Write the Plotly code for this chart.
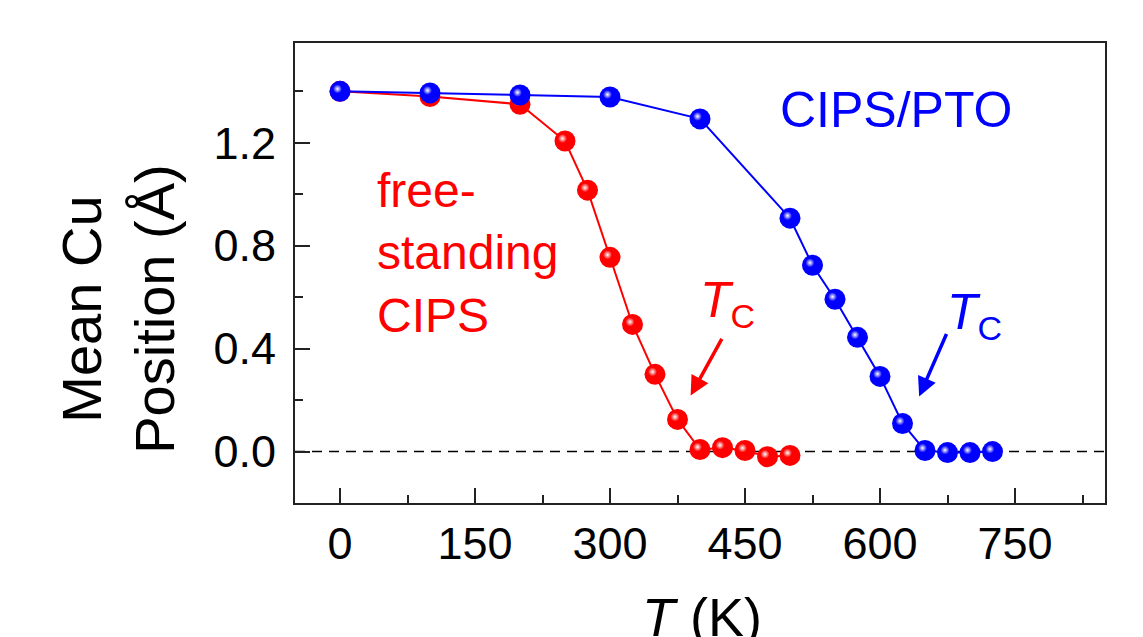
import plotly.graph_objects as go

# Temperature (K) and mean Cu displacement (Å)
t_free = [0, 100, 200, 250, 275, 300, 325, 350, 375, 400, 425, 450, 475, 500]
cu_free = [1.40, 1.38, 1.35, 1.207, 1.016, 0.755, 0.494, 0.30, 0.125, 0.008, 0.015, 0.004, -0.02, -0.015]

t_pto = [0, 100, 200, 300, 400, 500, 525, 550, 575, 600, 625, 650, 675, 700, 725]
cu_pto = [1.40, 1.394, 1.386, 1.378, 1.293, 0.907, 0.724, 0.592, 0.444, 0.292, 0.109, 0.004, -0.004, -0.004, 0.0]

x_ticks = [0, 150, 300, 450, 600, 750]
y_ticks = [0.0, 0.4, 0.8, 1.2]

RED = "#ff0000"
BLUE = "#0000ff"
FONT = "Arial, Liberation Sans, sans-serif"

X_RANGE = [-50, 850]
Y_RANGE = [-0.2, 1.588]
PLOT_W, PLOT_H = 810, 460

# offset of the glossy highlight, in pixels converted to data units
hx = -2.5 * (X_RANGE[1] - X_RANGE[0]) / PLOT_W
hy = 2.5 * (Y_RANGE[1] - Y_RANGE[0]) / PLOT_H

fig = go.Figure()

# zero reference line
fig.add_shape(type="line", xref="paper", yref="y", x0=0, x1=1, y0=0, y1=0,
              line=dict(color="black", width=1.6, dash="10px,7px"), layer="below")

for xs, ys, col in [(t_free, cu_free, RED), (t_pto, cu_pto, BLUE)]:
    fig.add_trace(go.Scatter(x=xs, y=ys, mode="lines+markers",
                             line=dict(color=col, width=2),
                             marker=dict(size=21, color=col, line=dict(width=0)),
                             showlegend=False, hoverinfo="skip"))
    fig.add_trace(go.Scatter(x=[v + hx for v in xs], y=[v + hy for v in ys], mode="markers",
                             marker=dict(size=9, color=col, line=dict(width=0),
                                         gradient=dict(type="radial", color="white")),
                             showlegend=False, hoverinfo="skip"))

TC = "<i>T</i><sub><span style='font-size:34px'>C</span></sub>"

# text labels
fig.add_annotation(x=618, y=1.328, text="CIPS/PTO", showarrow=False,
                   font=dict(family=FONT, size=50, color=BLUE))
fig.add_annotation(x=39, y=0.77, text="free-<br>standing<br>CIPS", showarrow=False,
                   xanchor="left", align="left",
                   font=dict(family=FONT, size=48, color=RED))
fig.add_annotation(x=430, y=0.575, text=TC, showarrow=False,
                   font=dict(family=FONT, size=50, color=RED))
fig.add_annotation(x=705, y=0.53, text=TC, showarrow=False,
                   font=dict(family=FONT, size=50, color=BLUE))

# Tc arrows
fig.add_annotation(x=389.6, y=0.218, ax=32, ay=-58, text="", showarrow=True,
                   arrowhead=2, arrowsize=1.1, arrowwidth=3.5, arrowcolor=RED,
                   axref="pixel", ayref="pixel")
fig.add_annotation(x=643.5, y=0.214, ax=28, ay=-64, text="", showarrow=True,
                   arrowhead=2, arrowsize=1.1, arrowwidth=3.5, arrowcolor=BLUE,
                   axref="pixel", ayref="pixel")

# axis titles
fig.add_annotation(xref="paper", yref="paper", x=0, y=0.42, xshift=-177, xanchor="center",
                   yanchor="middle", text="Mean Cu<br>Position (Å)", textangle=-90,
                   showarrow=False, font=dict(family=FONT, size=56, color="black"))
fig.add_annotation(xref="x", yref="paper", x=402, y=0, yshift=-82, yanchor="top",
                   xanchor="center", text="<i>T</i> (K)", showarrow=False,
                   font=dict(family=FONT, size=54, color="black"))

axis_common = dict(showgrid=False, zeroline=False, showline=True, linecolor="#222222",
                   linewidth=1.8, mirror=True, ticks="inside", tickcolor="#222222",
                   tickwidth=1.5, ticklen=15,
                   tickfont=dict(family=FONT, size=45, color="black"))

fig.update_xaxes(range=X_RANGE, tickvals=x_ticks, ticktext=[str(v) for v in x_ticks],
                 minor=dict(ticks="inside", dtick=75, tick0=0, ticklen=8,
                            tickwidth=1.5, tickcolor="#222222"),
                 ticklabelstandoff=0, **axis_common)
fig.update_yaxes(range=Y_RANGE, tickvals=y_ticks, ticktext=[f"{v:.1f}" for v in y_ticks],
                 minor=dict(ticks="inside", dtick=0.2, tick0=0, ticklen=8,
                            tickwidth=1.5, tickcolor="#222222"),
                 ticklabelstandoff=8, **axis_common)

fig.update_layout(width=1143, height=637, margin=dict(l=295, r=38, t=43, b=134),
                  plot_bgcolor="white", paper_bgcolor="white")

fig.write_html("out.html")
